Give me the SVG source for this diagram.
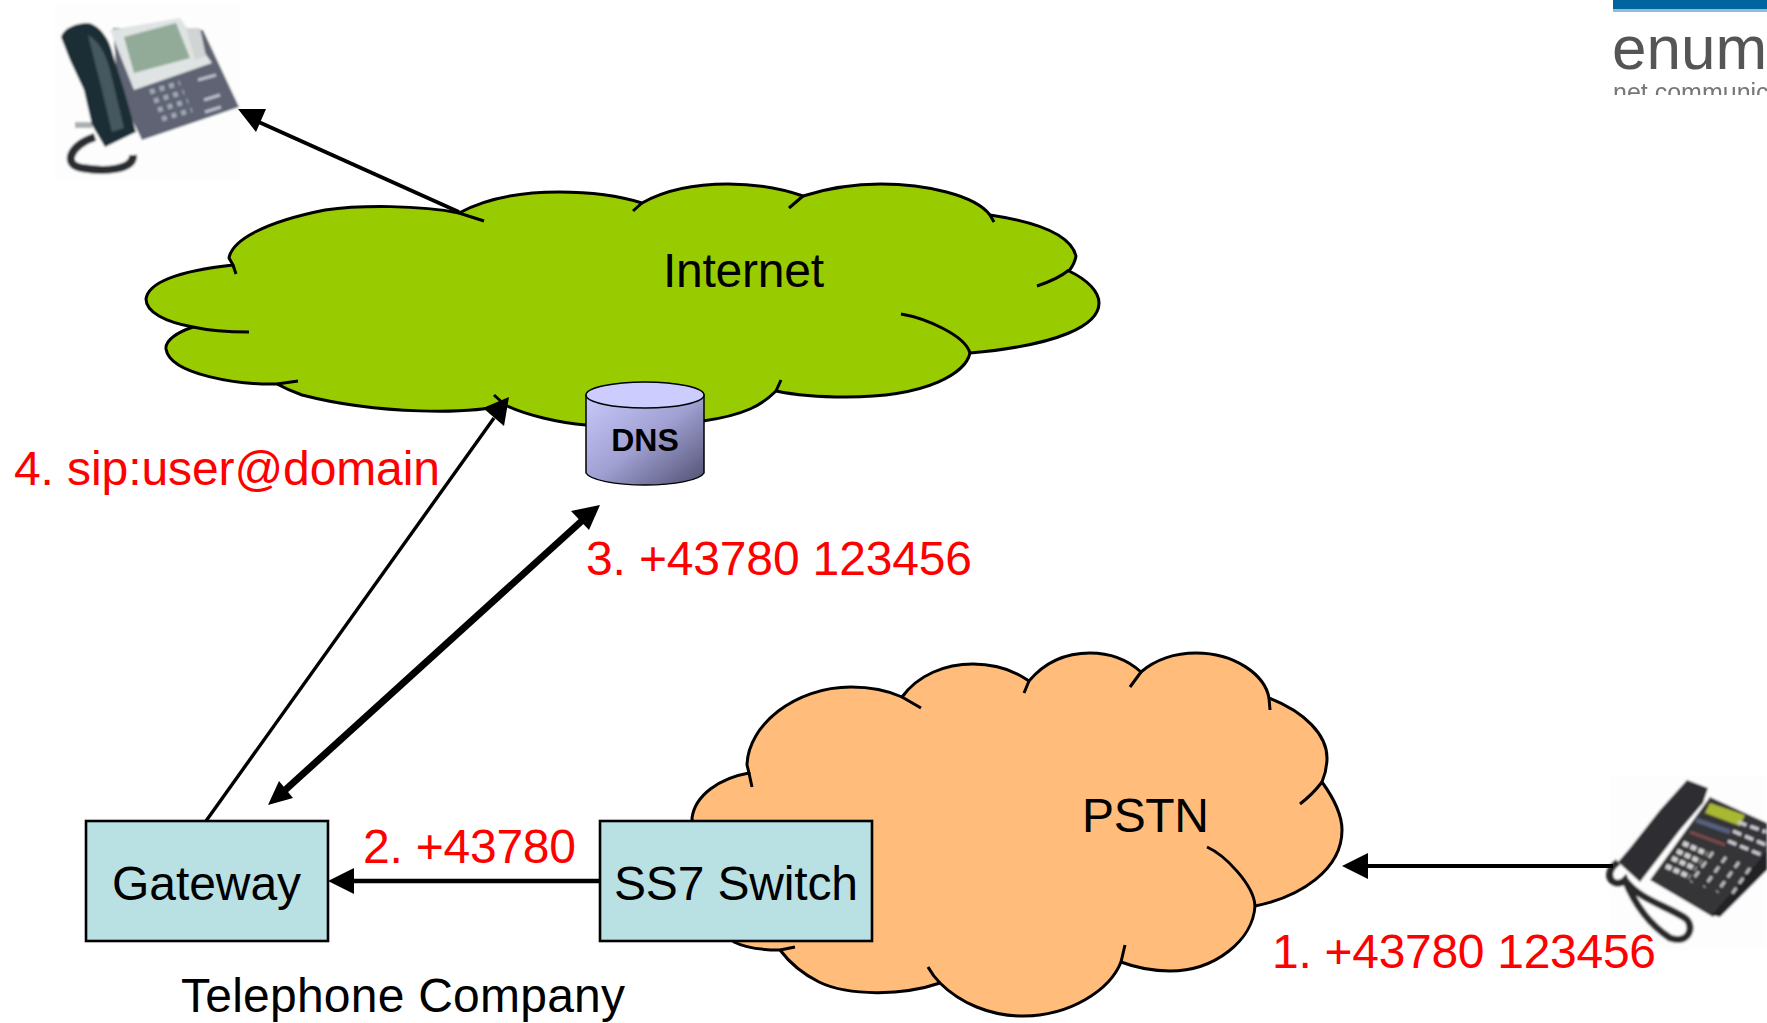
<svg xmlns="http://www.w3.org/2000/svg" width="1767" height="1023" viewBox="0 0 1767 1023">
<style>
text{font-family:"Liberation Sans",Arial,sans-serif;font-size:48px;fill:#000}
.red{fill:#f00}
.box{fill:#b9e0e3;stroke:#000;stroke-width:2.6}
.cl{stroke:#000;stroke-width:3;stroke-linejoin:round;stroke-linecap:butt}
.tail{fill:none;stroke:#000;stroke-width:3;stroke-linejoin:round}
.ln{fill:none;stroke:#000}
.ah{fill:#000;stroke:none}
</style>
<defs>
<linearGradient id="cyl" x1="0" y1="0" x2="1" y2="1"><stop offset="0" stop-color="#c9c9fb"/><stop offset="0.5" stop-color="#a0a0d2"/><stop offset="1" stop-color="#505072"/></linearGradient>
<filter id="soft" x="-5%" y="-5%" width="110%" height="110%"><feGaussianBlur stdDeviation="0.9"/></filter>
<filter id="soft2" x="-5%" y="-5%" width="110%" height="110%"><feGaussianBlur stdDeviation="0.7"/></filter>
<clipPath id="logoclip"><rect x="1613" y="0" width="154" height="95"/></clipPath>
</defs>

<g id="phone-ip" filter="url(#soft)">
<rect x="55" y="3" width="185" height="177" fill="#fdfdfd"/>
<path d="M95 137C70 145 62 165 82 168C105 172 134 170 133 155" fill="none" stroke="#2a2e30" stroke-width="8"/>
<path d="M75 122H92V128H75Z" fill="#a8b0b0"/>
<path d="M113 28L203 30L239 107L142 140L118 90Z" fill="#5f6473"/>
<path d="M110 30L180 18L212 63L134 90Z" fill="#dfe3e3"/>
<path d="M124 37L176 23L190 58L134 73Z" fill="#92ab98"/>
<path d="M186 28L195 60L206 56L200 28Z" fill="#d0d4d4"/>
<path d="M150 92l30 -9M154 101l30 -9M158 110l30 -9M162 119l30 -9" stroke="#a0a6b4" stroke-width="5" stroke-dasharray="5 5" fill="none"/>
<path d="M198 80l18 -5M204 100l16 -5M205 112l16 -5" stroke="#b8bcc8" stroke-width="3" fill="none"/>
<path d="M61 37C64 28 76 23 88 23C100 25 110 40 113 55L124 90L136 132L105 147L92 125L84 90L70 60Z" fill="#1f2e35"/>
<path d="M88 35C100 42 106 55 110 70L124 128L112 132L102 90Z" fill="#45585f"/>
</g>

<g id="logo">
<rect x="1613" y="0" width="154" height="9" fill="#00659f"/>
<rect x="1613" y="9" width="154" height="3" fill="#8fbcd8"/>
<g clip-path="url(#logoclip)" filter="url(#soft2)">
<text x="1612" y="69" style="font-size:62px;fill:#555">enum</text>
<text x="1613" y="101" style="font-size:25px;fill:#777">net.communic</text>
</g>
</g>

<g id="internet">
<path class="cl" fill="#99cc00" d="M146 299C148 285 170 272 233 265L229 258C232 240 265 222 325 210C360 205 420 205 459 213C490 196 530 192 559 192C590 192 620 196 642 203C665 190 695 184 728 184C755 184 780 188 803 196C825 189 855 184 881 184C925 184 975 195 990 215C1030 221 1070 232 1076 256Q1075 263 1069 271C1088 280 1099 292 1099 303C1099 325 1060 345 970 353C966 372 930 397 846 397C820 397 795 395 776 391C762 405 745 415 703 421L650 428L586 425C560 423 525 415 505 405C470 414 380 415 302 395Q288 390 277 384C240 385 170 375 166 349C165 340 178 332 193 327C165 322 146 312 146 299Z"/>
<path class="tail" d="M233 265L236 274M459 213L484 221M642 203L633 211M803 196L789 208M990 215L994 222M1037 286Q1058 279 1069 270M901 314C925 318 965 335 970 353M776 391L781 380M505 405L494 395M277 384L298 381M193 327Q215 332 249 332"/>
<text x="663" y="287" textLength="161">Internet</text>
</g>

<g id="pstn">
<path class="cl" fill="#ffbc7a" d="M692 818C695 795 720 778 749 773L747 765C748 725 795 687 851 687Q880 687 902 697C918 675 945 664 973 664Q1005 664 1029 681C1045 662 1065 653 1090 653Q1120 653 1141 672C1155 660 1175 653 1196 653C1235 653 1265 675 1269 698C1305 712 1327 735 1327 758Q1327 770 1322 782C1335 800 1342 815 1342 830C1342 870 1300 897 1255 906C1253 940 1215 971 1170 971Q1145 971 1121 962C1110 990 1070 1016 1023 1016C990 1016 960 1003 940 983C905 995 850 997 819 982Q795 970 780 950Q750 950 734 942L700 900Z"/>
<path class="tail" d="M749 773L752 787M902 697L921 708M1029 681L1024 693M1141 672L1130 687M1269 698L1270 710M1322 782Q1313 794 1300 804M1207 847C1225 855 1254 885 1255 906M1121 962L1125 945M940 983Q933 976 928 967M780 950L795 947"/>
<text x="1082" y="832" textLength="127">PSTN</text>
</g>

<g id="dns">
<path d="M586 395V473C590 480 615 485 645 485C675 485 700 480 704 473V395Z" fill="url(#cyl)" stroke="#000" stroke-width="1.5"/>
<ellipse cx="645" cy="395" rx="59" ry="13" fill="#ccccff" stroke="#000" stroke-width="1.5"/>
<text x="645" y="451" text-anchor="middle" style="font-size:32px;font-weight:bold">DNS</text>
</g>

<g id="gateway">
<rect class="box" x="86" y="821" width="242" height="120"/>
<text x="112" y="900" textLength="189">Gateway</text>
</g>
<g id="ss7-switch">
<rect class="box" x="600" y="821" width="272" height="120"/>
<text x="614" y="900" textLength="244">SS7 Switch</text>
</g>

<g id="phone-desk" filter="url(#soft)">
<rect x="1610" y="775" width="157" height="175" fill="#fdfdfd"/>
<path d="M1618 862C1600 875 1615 890 1625 880C1635 905 1650 925 1670 938C1690 945 1695 925 1685 918C1665 905 1640 900 1625 880" fill="none" stroke="#2a2a2c" stroke-width="7"/>
<path d="M1710 797L1767 823V860L1713 917L1650 880Z" fill="#343437"/>
<path d="M1760 860L1767 850V870L1720 917L1712 915Z" fill="#222226"/>
<path d="M1687 780L1708 788L1703 803L1680 830L1640 882L1618 862L1630 848L1660 810Z" fill="#2e2e31"/>
<path d="M1710 803L1745 815L1740 826L1705 813Z" fill="#a9b830"/>
<path d="M1696 820L1730 832" stroke="#56607f" stroke-width="5" fill="none"/>
<path d="M1690 832L1725 845" stroke="#7a4a4a" stroke-width="3" fill="none"/>
<path d="M1738 822L1766 832M1733 831L1766 845M1728 841L1764 856" stroke="#c8c8d0" stroke-width="3.5" stroke-dasharray="9 4" fill="none"/>
<path d="M1683 843l24 11M1677 851l24 11M1672 858l24 11M1666 866l24 11" stroke="#cfcfcf" stroke-width="5" stroke-dasharray="6 2.5" fill="none"/>
<path d="M1713 852l-22 30M1726 857l-22 30M1739 862l-22 30M1750 868l-18 26" stroke="#bcbcbc" stroke-width="3" stroke-dasharray="7 5" fill="none"/>
</g>

<g id="connectors">
<path class="ln" stroke-width="3.8" d="M459 212L252 119"/>
<path class="ah" d="M238 109L266 109L256 132Z"/>
<path class="ln" stroke-width="3.4" d="M206 821L494 418"/>
<path class="ah" d="M509 397L504 426L483 408Z"/>
<path class="ln" stroke-width="7" d="M585 518L283 792"/>
<path class="ah" d="M600 505L589 530L571 511Z"/>
<path class="ah" d="M268 805L279 781L293 798Z"/>
<path class="ln" stroke-width="4.4" d="M600 881H350"/>
<path class="ah" d="M328 881L354 868V894Z"/>
<path class="ln" stroke-width="3.8" d="M1613 866H1364"/>
<path class="ah" d="M1342 866L1368 853V879Z"/>
</g>

<g id="labels">
<text class="red" x="14" y="485" textLength="426">4. sip:user@domain</text>
<text class="red" x="586" y="575" textLength="386">3. +43780 123456</text>
<text class="red" x="363" y="863" textLength="213">2. +43780</text>
<text class="red" x="1272" y="968" textLength="384">1. +43780 123456</text>
<text x="181" y="1012" textLength="444">Telephone Company</text>
</g>
</svg>
